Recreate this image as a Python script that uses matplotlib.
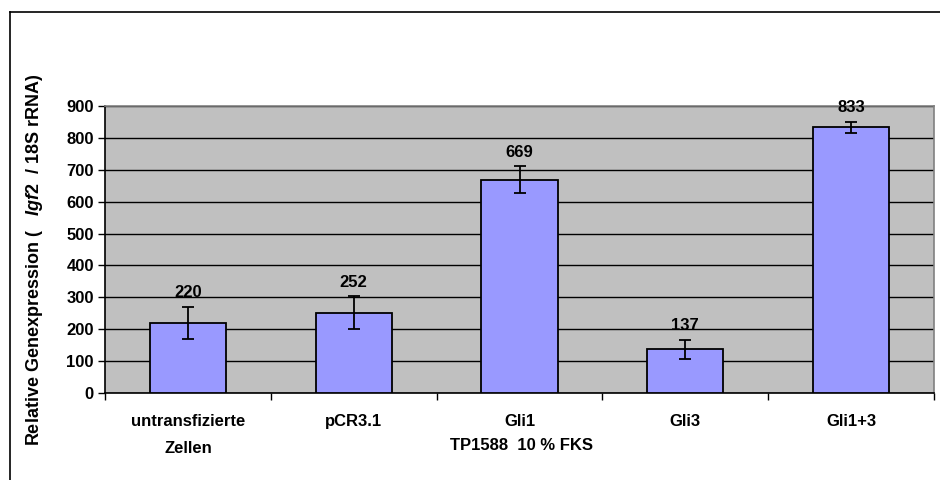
import matplotlib
matplotlib.use("Agg")
import matplotlib.pyplot as plt
from matplotlib.lines import Line2D
import numpy as np

plt.rcParams['font.family'] = ['Liberation Sans', 'DejaVu Sans']
plt.rcParams['font.weight'] = 'bold'
plt.rcParams['mathtext.fontset'] = 'custom'
plt.rcParams['mathtext.it'] = 'Liberation Sans:italic:bold'
plt.rcParams['mathtext.rm'] = 'Liberation Sans:bold'

categories = ["untransfizierte\nZellen", "pCR3.1", "Gli1", "Gli3", "Gli1+3"]
values = [220, 252, 669, 137, 833]
errors = [51, 51, 43, 30, 18]
y_ticks = [0, 100, 200, 300, 400, 500, 600, 700, 800, 900]
x_title = "TP1588  10 % FKS"
y_title = "Relative Genexpression (   $\\mathit{Igf2}$  / 18S rRNA)"

FS = 12
W, H = 940, 480
fig = plt.figure(figsize=(W / 100, H / 100), dpi=100)
fig.patch.set_facecolor('white')

left, right, top, bottom = 105, 934, 106, 393
ax = fig.add_axes([left / W, 1 - bottom / H, (right - left) / W, (bottom - top) / H])
ax.set_facecolor('#C0C0C0')

x = np.arange(len(values))
ax.bar(x, values, width=0.46, color='#9999FF', edgecolor='black', linewidth=1.3, zorder=3)
ax.errorbar(x, values, yerr=errors, fmt='none', ecolor='black', elinewidth=1.3,
            capsize=4.5, capthick=1.3, zorder=4)
for xi, v, e in zip(x, values, errors):
    ax.annotate(str(v), (xi, v + e), xytext=(0, 4.5), textcoords='offset points',
                ha='center', va='bottom', fontsize=FS, fontweight='bold')

ax.set_xlim(-0.5, len(values) - 0.5)
ax.set_ylim(0, 900)
ax.set_yticks(y_ticks)
ax.set_yticklabels([str(t) for t in y_ticks], fontsize=FS, fontweight='bold')
ax.yaxis.grid(True, color='black', linewidth=1.0, zorder=0)
ax.set_axisbelow(True)

ax.set_xticks(x)
ax.set_xticklabels(categories, fontsize=FS, fontweight='bold', linespacing=2.0)
ax.tick_params(axis='x', length=0, pad=15)
ax.set_xticks(np.arange(len(values) + 1) - 0.5, minor=True)
ax.tick_params(axis='x', which='minor', length=5, width=1, color='black', direction='out')
ax.tick_params(axis='y', length=5, width=1, direction='out', pad=3)

for s in ('top', 'right'):
    ax.spines[s].set_color('#808080')
    ax.spines[s].set_linewidth(1.2)
for s in ('left', 'bottom'):
    ax.spines[s].set_color('black')
    ax.spines[s].set_linewidth(1.2)

fig.text(((left + right) / 2 + 2) / W, 1 - 445 / H, x_title, ha='center', va='center',
         fontsize=FS, fontweight='bold')
fig.text(35 / W, 1 - 260 / H, y_title, rotation=90, ha='center', va='center',
         fontsize=13, fontweight='bold')

# outer chart frame
fig.add_artist(Line2D([10 / W, 1.01], [1 - 12 / H, 1 - 12 / H], color='black', linewidth=1.2,
                      transform=fig.transFigure))
fig.add_artist(Line2D([10 / W, 10 / W], [1 - 12 / H, -0.01], color='black', linewidth=1.2,
                      transform=fig.transFigure))

fig.savefig('out.png', dpi=100)
